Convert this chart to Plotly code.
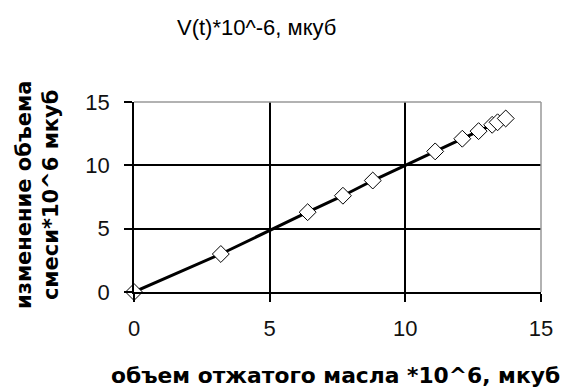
import plotly.graph_objects as go

# Pressed-oil volume vs. mixture volume change (both *10^6, mkub)
oil_volume = [0, 3.2, 6.4, 7.7, 8.8, 11.1, 12.1, 12.7, 13.2, 13.4, 13.7]
mix_change = [0, 3.0, 6.3, 7.6, 8.8, 11.1, 12.1, 12.7, 13.2, 13.4, 13.7]
tick_values = [0, 5, 10, 15]

title_text = "V(t)*10^-6, мкуб"
x_title = "объем отжатого масла *10^6, мкуб"
y_title = "изменение объема<br>смеси*10^6 мкуб"

FONT = "Arial, Liberation Sans, sans-serif"
BOLD_FONT = "DejaVu Sans, Arial, sans-serif"

fig = go.Figure()
fig.add_trace(go.Scatter(
    x=oil_volume, y=mix_change,
    mode="lines+markers",
    line=dict(color="black", width=3),
    marker=dict(symbol="diamond", size=13, color="white",
                line=dict(color="black", width=1)),
    cliponaxis=False,
    showlegend=False,
))

axis_common = dict(
    range=[0, 15], tickvals=tick_values, ticks="outside", ticklen=8,
    tickcolor="black", tickwidth=1.5, showgrid=True, gridcolor="black",
    gridwidth=1.5, zeroline=False, showline=True, linecolor="black",
    linewidth=1.5, tickfont=dict(family=FONT, size=22, color="#111"),
)

fig.update_xaxes(**axis_common, ticklabelstandoff=8)
fig.update_yaxes(**axis_common, ticklabelstandoff=10)

# grey frame on the top and right edges of the plot area
fig.add_shape(type="line", xref="paper", yref="paper", x0=0, x1=1, y0=1, y1=1,
              line=dict(color="#999", width=1.5), layer="above")
fig.add_shape(type="line", xref="paper", yref="paper", x0=1, x1=1, y0=0, y1=1,
              line=dict(color="#999", width=1.5), layer="above")

W, H = 566, 390
L, R, T, B = 134, 25, 102, 98
pw, ph = W - L - R, H - T - B

def px_x(p):
    return (p - L) / pw

def px_y(p):
    return (H - B - p) / ph

fig.add_annotation(text=title_text, xref="paper", yref="paper",
                   x=px_x(256), y=px_y(28), xanchor="center", yanchor="middle",
                   showarrow=False, font=dict(family=FONT, size=22, color="black"))
fig.add_annotation(text="<b>" + x_title + "</b>", xref="paper", yref="paper",
                   x=px_x(335), y=px_y(375), xanchor="center", yanchor="middle",
                   showarrow=False, font=dict(family=BOLD_FONT, size=21.8, color="black"))
fig.add_annotation(text="<b>" + y_title + "</b>", xref="paper", yref="paper",
                   x=px_x(37), y=px_y(195), xanchor="center", yanchor="middle",
                   textangle=-90, showarrow=False,
                   font=dict(family=BOLD_FONT, size=21, color="black"))

fig.update_layout(
    width=W, height=H,
    margin=dict(l=L, r=R, t=T, b=B),
    paper_bgcolor="white", plot_bgcolor="white",
)

fig.write_html("out.html")
